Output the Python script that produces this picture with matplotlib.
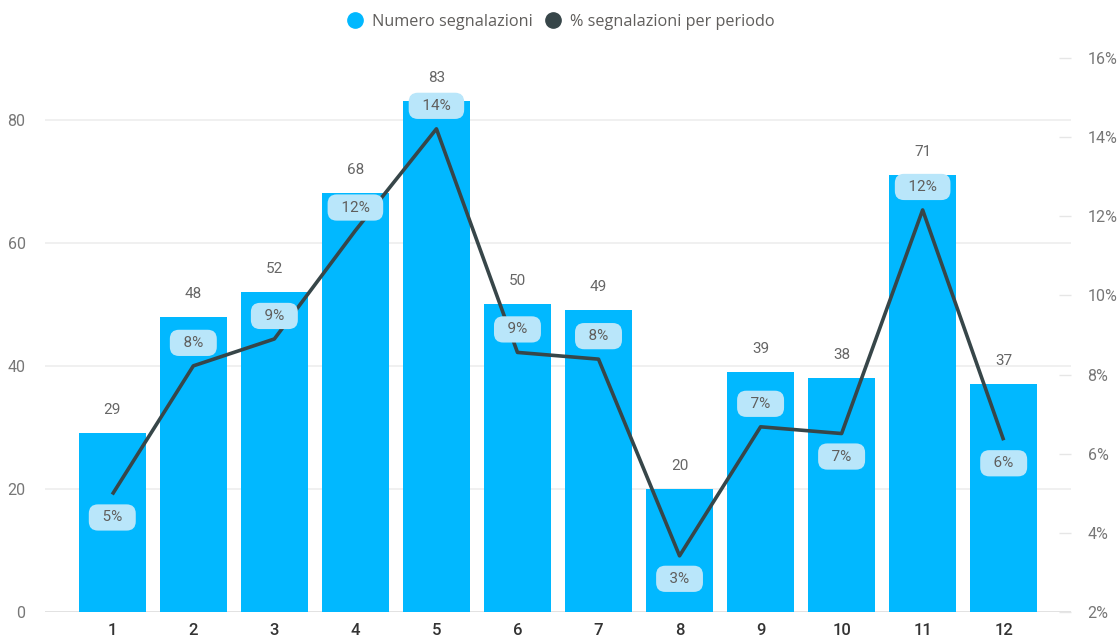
import numpy as np
import matplotlib
matplotlib.use("Agg")
import matplotlib.pyplot as plt
from matplotlib.lines import Line2D

# data
periodi = [1, 2, 3, 4, 5, 6, 7, 8, 9, 10, 11, 12]
segnalazioni = [29, 48, 52, 68, 83, 50, 49, 20, 39, 38, 71, 37]
perc = [4.97, 8.22, 8.90, 11.64, 14.21, 8.56, 8.39, 3.42, 6.68, 6.51, 12.16, 6.34]
perc_labels = ["5%", "8%", "9%", "12%", "14%", "9%", "8%", "3%", "7%", "7%", "12%", "6%"]
label_side = ["below", "above", "above", "above", "above", "above", "above",
              "below", "above", "below", "above", "below"]

bar_col = "#01B8FF"
line_col = "#374649"
text_col = "#605E5C"
grid_col = "#EDEDED"

plt.rcParams['font.family'] = ['Roboto', 'DejaVu Sans']

fig = plt.figure(figsize=(11.2, 6.43), dpi=100)
ax = fig.add_axes([0.0402, 0.0482, 0.916, 0.8616])
ax2 = ax.twinx()

x = np.array(periodi)
ax.bar(x, segnalazioni, width=0.83, color=bar_col, zorder=2)
ax.set_xlim(0.17, 12.83)
ax.set_ylim(0, 90)
ax.set_yticks([0, 20, 40, 60, 80])
ax.grid(axis='y', color=grid_col, linewidth=1.2, zorder=0)
ax.set_axisbelow(True)
for s in ax.spines.values():
    s.set_visible(False)
ax.tick_params(axis='y', length=0, pad=14, labelsize=11.5, labelcolor="#777777")
ax.tick_params(axis='x', length=0, pad=8, labelsize=12, labelcolor="#333333")
ax.set_xticks(x)
ax.set_xticklabels([str(p) for p in periodi], fontweight='medium')
ax.axhline(0, color="#E0E0E0", linewidth=1.2, zorder=1)

for xi, v in zip(x, segnalazioni):
    ax.annotate(str(v), (xi, v), xytext=(0, 23), textcoords='offset pixels',
                ha='center', va='center', fontsize=11, color="#666666")

ax2.plot(x, perc, color=line_col, linewidth=2.6, zorder=3, solid_capstyle='butt')
ax2.set_ylim(2, 16)
ax2.set_yticks(range(2, 17, 2))
ax2.set_yticklabels([f"{t}%" for t in range(2, 17, 2)])
for s in ax2.spines.values():
    s.set_visible(False)
ax2.tick_params(axis='y', direction='in', length=9, width=1, color="#E6E6E6",
                pad=12, labelsize=11.5, labelcolor="#777777")

for xi, p, lab, side in zip(x, perc, perc_labels, label_side):
    off = 23 if side == "above" else -23
    ax2.annotate(f"  {lab}  ", (xi, p), xytext=(0, off), textcoords='offset pixels',
                 ha='center', va='center', fontsize=11, color=text_col, zorder=5,
                 bbox=dict(boxstyle="round,pad=0.4,rounding_size=0.6",
                           fc="#B9E6FA", ec="none"))

handles = [Line2D([], [], marker='o', linestyle='none', markersize=11, color=bar_col),
           Line2D([], [], marker='o', linestyle='none', markersize=11, color=line_col)]
fig.legend(handles, ["Numero segnalazioni", "% segnalazioni per periodo"],
           loc='center', bbox_to_anchor=(0.497, 0.966), ncol=2, frameon=False,
           labelcolor=text_col, handletextpad=0.0, columnspacing=0.3,
           prop={'family': ['Open Sans', 'DejaVu Sans'], 'size': 11.7})

fig.savefig("out.png", dpi=100)
